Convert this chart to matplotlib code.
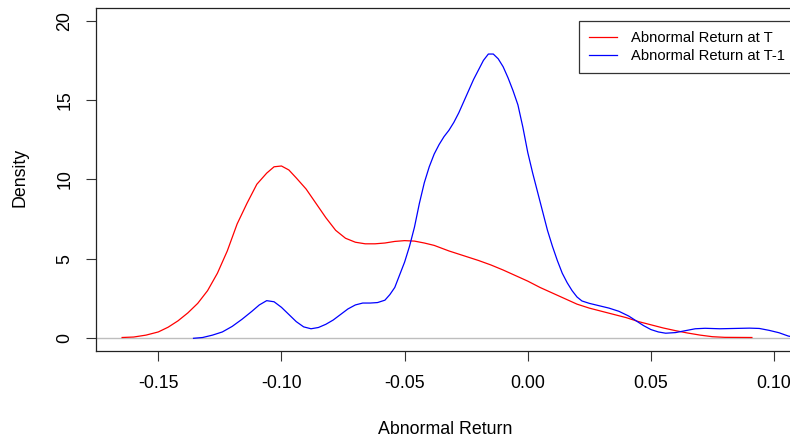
import matplotlib
matplotlib.use("Agg")
import matplotlib.pyplot as plt

plt.rcParams["font.family"] = ["Liberation Sans", "DejaVu Sans"]

# =========================
# Data
# =========================
red_x = [-0.1647, -0.160, -0.155, -0.150, -0.146, -0.142, -0.138, -0.134, -0.130,
         -0.126, -0.122, -0.118, -0.114, -0.110, -0.106, -0.103, -0.100, -0.097,
         -0.094, -0.090, -0.086, -0.082, -0.078, -0.074, -0.070, -0.066, -0.062,
         -0.058, -0.054, -0.050, -0.046, -0.042, -0.038, -0.032, -0.026, -0.020,
         -0.015, -0.010, -0.005, 0.000, 0.005, 0.010, 0.015, 0.020, 0.025, 0.030,
         0.035, 0.040, 0.045, 0.050, 0.055, 0.060, 0.065, 0.070, 0.075, 0.080, 0.091]
red_y = [0.05, 0.08, 0.2, 0.4, 0.7, 1.1, 1.6, 2.2, 3.0,
         4.1, 5.5, 7.2, 8.5, 9.7, 10.4, 10.8, 10.85, 10.6,
         10.1, 9.4, 8.5, 7.6, 6.8, 6.3, 6.05, 5.95, 5.95,
         6.0, 6.1, 6.15, 6.12, 6.0, 5.85, 5.5, 5.2, 4.9,
         4.62, 4.3, 3.95, 3.6, 3.2, 2.85, 2.5, 2.15, 1.9, 1.7,
         1.5, 1.3, 1.05, 0.85, 0.65, 0.48, 0.33, 0.2, 0.1, 0.06, 0.05]

blue_x = [-0.1357, -0.132, -0.128, -0.124, -0.120, -0.116, -0.112, -0.109, -0.106,
          -0.103, -0.100, -0.097, -0.094, -0.091, -0.088, -0.085, -0.082, -0.079,
          -0.076, -0.073, -0.070, -0.067, -0.064, -0.061, -0.058, -0.056, -0.054,
          -0.052, -0.050, -0.048, -0.046, -0.044, -0.042, -0.040, -0.038, -0.036,
          -0.034, -0.032, -0.030, -0.028, -0.026, -0.024, -0.022, -0.020, -0.018,
          -0.016, -0.014, -0.012, -0.010, -0.008, -0.006, -0.004, -0.002, 0.000,
          0.002, 0.004, 0.006, 0.008, 0.010, 0.012, 0.014, 0.016, 0.018, 0.020,
          0.022, 0.025, 0.029, 0.033, 0.037, 0.041, 0.044, 0.047, 0.050, 0.053,
          0.056, 0.060, 0.064, 0.068, 0.072, 0.078, 0.084, 0.090, 0.094, 0.098,
          0.102, 0.1058, 0.108]
blue_y = [0.0, 0.05, 0.2, 0.4, 0.75, 1.2, 1.7, 2.1, 2.37,
          2.3, 1.95, 1.5, 1.05, 0.72, 0.6, 0.68, 0.88, 1.15,
          1.5, 1.85, 2.1, 2.22, 2.22, 2.25, 2.4, 2.75, 3.2,
          4.0, 4.8, 5.8, 7.0, 8.5, 9.8, 10.8, 11.6, 12.2,
          12.7, 13.1, 13.6, 14.2, 14.9, 15.6, 16.3, 16.9, 17.5,
          17.9, 17.9, 17.6, 17.1, 16.4, 15.6, 14.7, 13.3, 11.7,
          10.4, 9.2, 8.0, 6.8, 5.8, 4.9, 4.1, 3.5, 3.0, 2.6,
          2.35, 2.2, 2.05, 1.9, 1.7, 1.4, 1.1, 0.8, 0.55, 0.4,
          0.32, 0.36, 0.48, 0.6, 0.63, 0.6, 0.62, 0.64, 0.62, 0.5,
          0.35, 0.14, 0.08]

x_ticks = [-0.15, -0.10, -0.05, 0.00, 0.05, 0.10]
x_tick_labels = ["-0.15", "-0.10", "-0.05", "0.00", "0.05", "0.10"]
y_ticks = [0, 5, 10, 15, 20]
labels = ["Abnormal Return at T", "Abnormal Return at T-1"]

# =========================
# Figure
# =========================
W, H = 790, 442
fig = plt.figure(figsize=(W / 100, H / 100), dpi=100)
ax = fig.add_axes([96 / W, 1 - 351 / H, (795 - 96) / W, (351 - 8.3) / H])

ax.axhline(0, color="#bebebe", lw=1.0, zorder=1)
ax.plot(red_x, red_y, color="red", lw=0.9, label=labels[0], zorder=2)
ax.plot(blue_x, blue_y, color="blue", lw=0.9, label=labels[1], zorder=3)

ax.set_xlim(-0.1753, 0.1085)
ax.set_ylim(-0.8, 20.78)

ax.set_xticks(x_ticks)
ax.set_xticklabels(x_tick_labels)
ax.set_yticks(y_ticks)
ax.set_yticklabels([str(v) for v in y_ticks], rotation=90, va="center")
ax.tick_params(axis="both", length=7.2, width=0.8, labelsize=12.8, color="#333333")
ax.tick_params(axis="x", pad=10)
ax.tick_params(axis="y", pad=9)

for s in ax.spines.values():
    s.set_linewidth(0.9)
    s.set_color("#222222")

fig.text(445.5 / W, 1 - 430 / H, "Abnormal Return", ha="center", va="center", fontsize=12.8)
fig.text(19.5 / W, 1 - 177 / H, "Density", ha="center", va="center", rotation=90, fontsize=12.8)

leg = ax.legend(loc="upper right", bbox_to_anchor=(1.0, 1 - 12.5 / 342.7),
                borderaxespad=0, fancybox=False, framealpha=1, edgecolor="#333333",
                fontsize=10.6, handlelength=1.85, handletextpad=0.95,
                labelspacing=0.25, borderpad=0.7)
leg.get_frame().set_linewidth(0.9)

plt.savefig("out.png", dpi=100)
